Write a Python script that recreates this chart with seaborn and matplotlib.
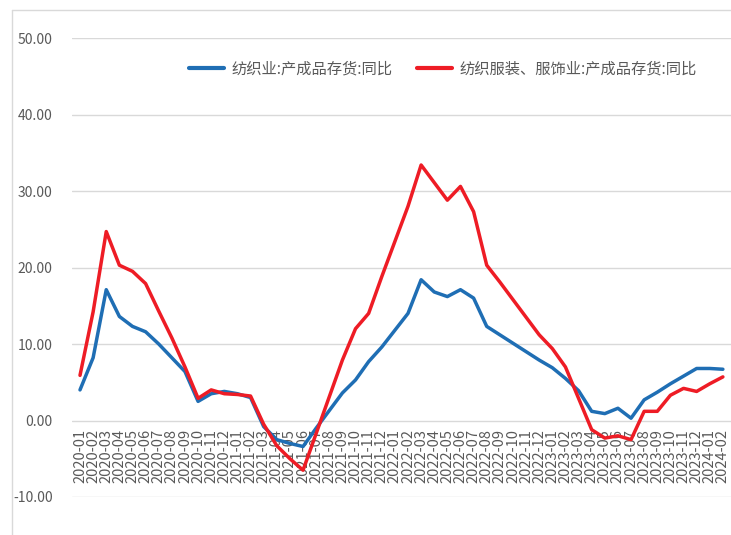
import numpy as np
import pandas as pd
import matplotlib
matplotlib.use("Agg")
import matplotlib.pyplot as plt
from matplotlib.lines import Line2D
import seaborn as sns

months = [f"{y}-{m:02d}" for y in range(2020, 2025) for m in range(1, 13)][:50]

textile = [4.0, 8.2, 17.1, 13.6, 12.3, 11.6, 10.0, 8.2, 6.4, 2.5,
           3.5, 3.8, 3.5, 3.0, -0.8, -2.5, -3.0, -3.4, -1.0, 1.3,
           3.6, 5.3, 7.7, 9.6, 11.8, 14.0, 18.4, 16.8, 16.2, 17.1,
           16.0, 12.3, 11.2, 10.1, 9.0, 7.9, 6.9, 5.5, 3.9, 1.2,
           0.9, 1.6, 0.3, 2.7, 3.7, 4.8, 5.8, 6.8, 6.8, 6.7]

apparel = [5.9, 14.2, 24.7, 20.3, 19.5, 17.9, 14.3, 10.8, 7.0, 2.9,
           4.0, 3.5, 3.4, 3.2, -0.5, -3.3, -5.0, -6.5, -1.7, 3.1,
           7.9, 12.0, 14.0, 18.8, 23.4, 28.0, 33.4, 31.1, 28.8, 30.6,
           27.3, 20.3, 18.1, 15.8, 13.5, 11.2, 9.4, 7.0, 2.9, -1.2,
           -2.3, -2.0, -2.5, 1.2, 1.2, 3.3, 4.2, 3.8, 4.8, 5.7]

series_names = ["纺织业:产成品存货:同比", "纺织服装、服饰业:产成品存货:同比"]
colors = ["#1F6EB4", "#EE1C25"]
yticks = [-10, 0, 10, 20, 30, 40, 50]

sns.set_theme(style="white")
plt.rcParams['font.family'] = ['Noto Sans CJK SC', 'DejaVu Sans']

n = len(months)
df = pd.DataFrame({
    "idx": list(range(n)) * 2,
    "value": textile + apparel,
    "series": [series_names[0]] * n + [series_names[1]] * n,
})

fig = plt.figure(figsize=(7.31, 5.35), dpi=100)
ax = fig.add_axes([72 / 731, 1 - 497 / 535, 1 - 72 / 731, (497 - 38) / 535])

sns.lineplot(data=df, x="idx", y="value", hue="series", hue_order=series_names,
             palette=dict(zip(series_names, colors)), linewidth=2.5,
             legend=False, ax=ax)

ax.spines['bottom'].set_position(('data', 0))
for s in ax.spines.values():
    s.set_visible(False)

ax.set_ylim(-10, 50)
ax.set_xlim((72 - 80) / 13.12, (731 - 80) / 13.12)
ax.set_yticks(yticks)
ax.set_yticklabels([f"{v:.2f}" for v in yticks], fontsize=10, color="#595959")
ax.set_xticks(range(n))
ax.set_xticklabels(months, rotation=90, fontsize=10.5, color="#595959",
                   ha="center", va="top")
ax.set_xlabel("")
ax.set_ylabel("")

ax.tick_params(axis='x', length=0, pad=6)
ax.tick_params(axis='y', length=0, pad=14)
ax.grid(axis='y', color="#D9D9D9", linewidth=1)
ax.grid(axis='x', visible=False)
ax.set_axisbelow(True)

handles = [Line2D([], [], color=c, linewidth=3) for c in colors]
fig.legend(handles, series_names, loc="center", ncol=2,
           bbox_to_anchor=(443 / 731, 1 - 69 / 535), frameon=False,
           fontsize=11, handlelength=2.3, handletextpad=0.5, columnspacing=1.6,
           labelcolor="#595959")

fig.add_artist(Line2D([12 / 731, 12 / 731], [0, 1 - 10 / 535], transform=fig.transFigure,
                      color="#D9D9D9", linewidth=1))
fig.add_artist(Line2D([12 / 731, 1], [1 - 10 / 535, 1 - 10 / 535], transform=fig.transFigure,
                      color="#D9D9D9", linewidth=1))

fig.savefig("out.png", dpi=100, facecolor="white")
